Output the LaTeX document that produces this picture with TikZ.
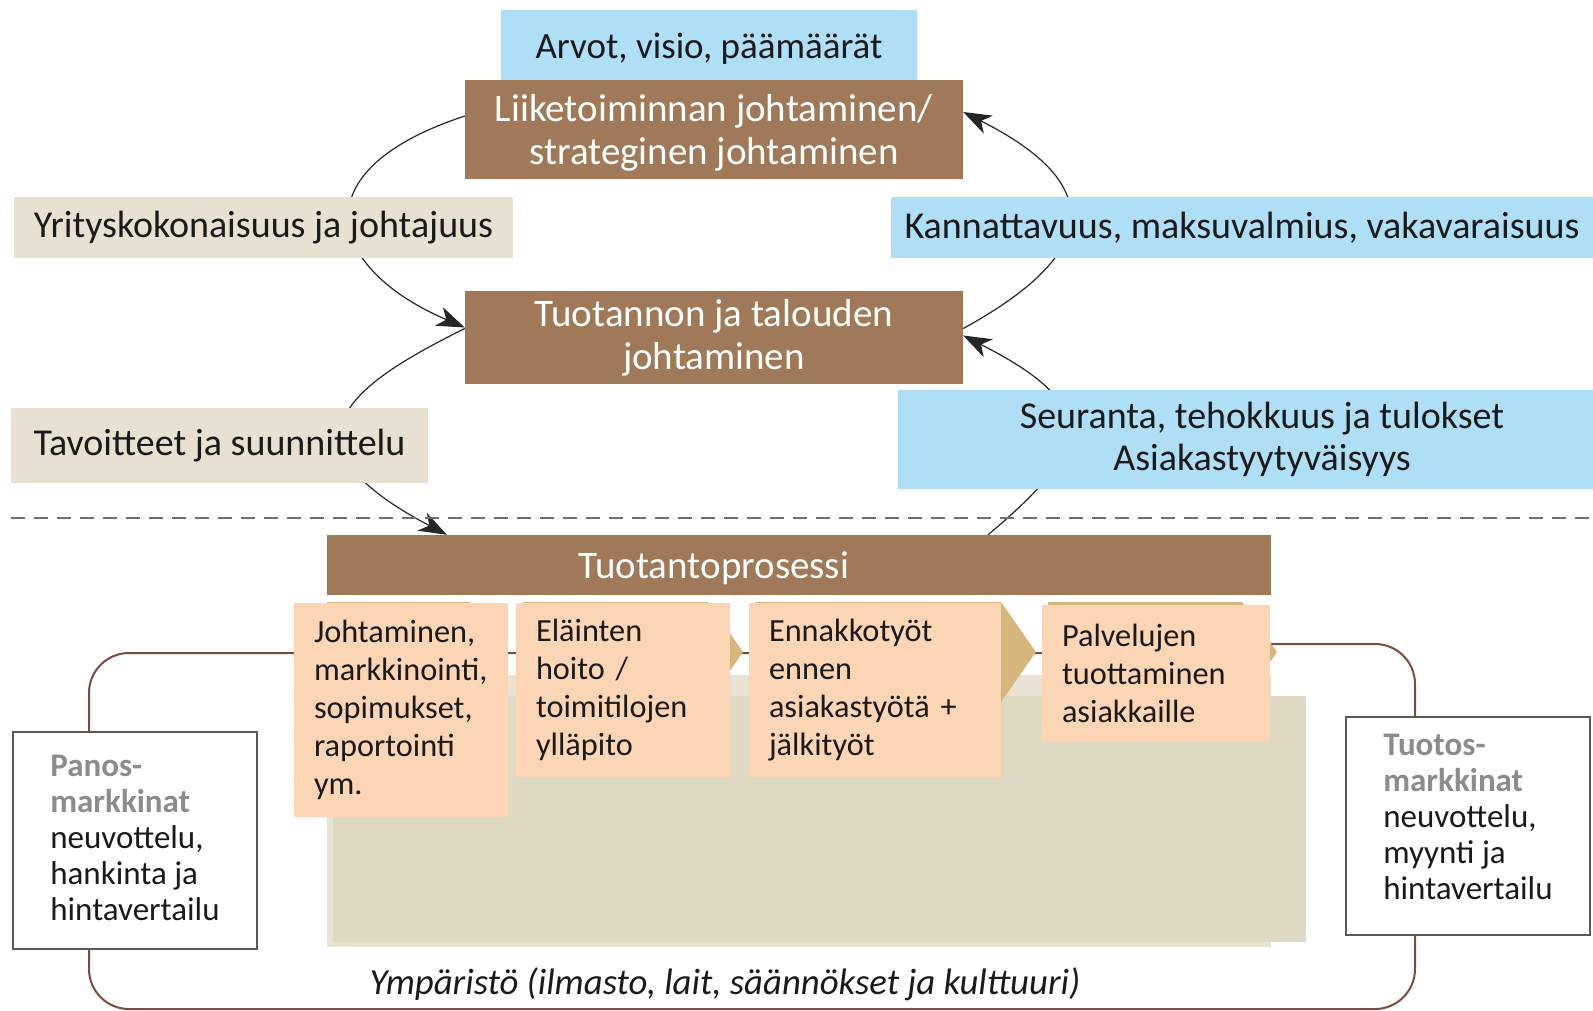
\documentclass[tikz,border=0pt]{standalone}
\usepackage{fontspec}
\setmainfont{Carlito}
\usetikzlibrary{arrows.meta, backgrounds, positioning}
\definecolor{skyblue}{HTML}{AFDEF7}
\definecolor{bark}{HTML}{A07958}
\definecolor{sand}{HTML}{E8E1D2}
\definecolor{peach}{HTML}{FCD5B4}
\definecolor{chevtan}{HTML}{D6B67D}
\definecolor{field}{HTML}{DFD8C3}
\definecolor{fieldedge}{HTML}{E9E2D3}
\definecolor{rim}{HTML}{7B4B3E}
\definecolor{ink}{HTML}{1A1A1A}
\definecolor{mute}{HTML}{8C8C8C}
\tikzstyle{infobox} = [fill=skyblue, text=ink, inner sep=0, align=center, font=\fontsize{38}{42}\selectfont]
\tikzstyle{goalbox} = [fill=sand, text=ink, inner sep=0, align=center, font=\fontsize{38}{42}\selectfont]
\tikzstyle{mgmt} = [fill=bark, text=white, inner sep=0, minimum width=498pt, align=center,
                    font=\fontsize{39}{43}\selectfont]
\tikzstyle{stage} = [fill=peach, text=ink, inner xsep=20pt, inner ysep=0, align=left,
                     font=\fontsize{32.3}{38}\selectfont]
\tikzstyle{market} = [draw=black!65, line width=1.5pt, fill=white, text=ink, inner sep=0, align=left,
                      font=\fontsize{33}{36}\selectfont]
\tikzstyle{chev} = [fill=chevtan]
\tikzstyle{cycleline} = [draw=black!85, line width=1.2pt, -{Stealth[length=28pt, width=20pt, inset=8pt]}]
\tikzstyle{sep} = [draw=black!57, line width=2pt, dash pattern=on 14pt off 9pt]
\tikzstyle{envframe} = [draw=rim, line width=2pt, rounded corners=40pt]

\begin{document}
\begin{tikzpicture}[x=1pt, y=-1pt]
				\useasboundingbox (0, 0) rectangle (1593, 1011);

				% values and management
				\node (Arvot) [infobox, minimum width=416pt, minimum height=71pt, text depth=0pt,
					font=\fontsize{37}{42}\selectfont] at (709, 45.5) {Arvot, visio, päämäärät};
				\node (Liike) [mgmt, minimum height=99pt, text depth=0pt] at (714, 129.5) {Liiketoiminnan johtaminen/\\strateginen johtaminen};
				\node (Tuot) [mgmt, minimum height=93pt] at (714, 337.5) {Tuotannon ja talouden\\johtaminen};

				% left labels
				\node (Yritys) [goalbox, minimum width=499pt, minimum height=61pt] at (263.5, 227.5) {Yrityskokonaisuus ja johtajuus};
				\node (Tavoite) [goalbox, minimum width=417pt, minimum height=75pt] at (219.5, 445.5) {Tavoitteet ja suunnittelu};

				% right labels
				\node (Kann) [infobox, minimum width=702pt, minimum height=61pt] at (1242, 227.5) {Kannattavuus, maksuvalmius, vakavaraisuus};
				\node (Seur) [infobox, minimum width=728pt, minimum height=99pt] at (1262, 439.5) {Seuranta, tehokkuus ja tulokset\\Asiakastyytyväisyys};

				% production process
				\node (Prosessi) [mgmt, minimum width=944pt, minimum height=60pt,
					label={[text=white, font=\fontsize{39}{43}\selectfont, text depth=0pt, xshift=-85pt]center:Tuotantoprosessi}] at (799, 565) {};

				\fill [chev] (327, 602) -- (470, 602) -- (505, 652) -- (470, 702) -- (327, 702) -- cycle;
				\fill [chev] (523, 602) -- (708, 602) -- (743, 652) -- (708, 702) -- (523, 702) -- cycle;
				\fill [chev] (755, 602) -- (1001, 602) -- (1036, 652) -- (1001, 702) -- (755, 702) -- cycle;
				\fill [chev] (1048, 602) -- (1242, 602) -- (1277, 652) -- (1242, 702) -- (1048, 702) -- cycle;

				\node (Johto) [stage, text width=174pt, minimum height=214pt] at (401, 710) {Johtaminen,\\markkinointi,\\sopimukset,\\raportointi\\ym.};
				\node (Hoito) [stage, text width=174pt, minimum height=174pt] at (623, 690) {Eläinten\\hoito~/\\toimitilojen\\ylläpito};
				\node (Ennakko) [stage, text width=212pt, minimum height=174pt] at (875, 690) {Ennakkotyöt\\ennen\\asiakastyötä~+\\jälkityöt};
				\node (Palvelu) [stage, text width=188pt, minimum height=136pt] at (1156, 673) {Palvelujen\\tuottaminen\\asiakkaille};

				% markets
				\node (Panos) [market, minimum width=244pt, minimum height=217pt, text depth=6pt] at (135, 840.5)
					{\textcolor{mute}{\textbf{Panos-}}\\\textcolor{mute}{\textbf{markkinat}}\\neuvottelu,\\hankinta ja\\hintavertailu};
				\node (Tuotos) [market, minimum width=244pt, minimum height=218pt, text depth=18pt] at (1468, 826)
					{\textcolor{mute}{\textbf{Tuotos-}}\\\textcolor{mute}{\textbf{markkinat}}\\neuvottelu,\\myynti ja\\hintavertailu};

				\node (Ymparisto) [text=ink, font=\fontsize{36.8}{42}\selectfont\itshape] at (725, 984) {Ympäristö (ilmasto, lait, säännökset ja kulttuuri)};

				\begin{pgfonlayer}{background}
					\fill [fieldedge] (327, 675) rectangle (1271, 947);
					\fill [field] (333, 696) rectangle (1306, 942);
					\draw [envframe] (1150, 653) -- (89, 653) -- (89, 1009) -- (1415, 1009) -- (1415, 644) -- (1150, 644);

					% control cycle
					\draw [cycleline] ([yshift=13.5pt]Liike.west) .. controls (295, 172) and (330, 270) .. ([yshift=10pt]Tuot.west);
					\draw [cycleline] ([yshift=9pt]Tuot.west) .. controls (351, 385) and (270, 442) .. ([xshift=-352pt]Prosessi.north);
					\draw [cycleline] ([yshift=9pt]Tuot.east) .. controls (1090, 259) and (1116, 189) .. ([yshift=17.5pt]Liike.east);
					\draw [cycleline] ([xshift=189pt]Prosessi.north) .. controls (1093, 447) and (1100, 405) .. ([yshift=2pt]Tuot.east);

					\coordinate (SepL) at (11, 518);
					\coordinate (SepR) at (1593, 518);
					\draw [sep] (SepL) -- (SepR);
				\end{pgfonlayer}
			\end{tikzpicture}
\end{document}
